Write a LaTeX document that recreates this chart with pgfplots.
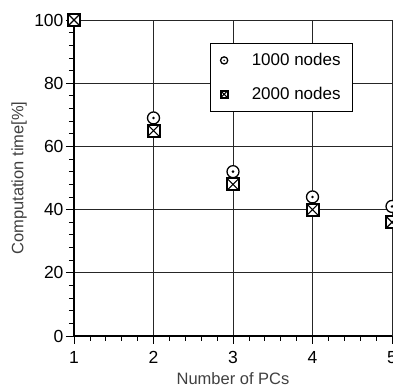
\documentclass[border=0pt]{standalone}
\usepackage{pgfplots}
\pgfplotsset{compat=1.18}
\usepackage{fontspec}
\setmainfont{Liberation Sans}
\pgfdeclareplotmark{odot}{%
  \pgfpathcircle{\pgfpointorigin}{\pgfplotmarksize}%
  \pgfusepathqfillstroke
  \begin{pgfscope}%
  \pgfsetfillcolor{black}%
  \pgfpathcircle{\pgfpointorigin}{0.24\pgfplotmarksize}%
  \pgfusepathqfill
  \end{pgfscope}%
}
\pgfdeclareplotmark{boxx}{%
  \pgfpathrectangle{\pgfpoint{-\pgfplotmarksize}{-\pgfplotmarksize}}{\pgfpoint{2\pgfplotmarksize}{2\pgfplotmarksize}}%
  \pgfusepathqfillstroke
  \begin{pgfscope}%
  \pgfsetlinewidth{1.1pt}%
  \pgfpathmoveto{\pgfpoint{-\pgfplotmarksize}{-\pgfplotmarksize}}%
  \pgfpathlineto{\pgfpoint{\pgfplotmarksize}{\pgfplotmarksize}}%
  \pgfpathmoveto{\pgfpoint{-\pgfplotmarksize}{\pgfplotmarksize}}%
  \pgfpathlineto{\pgfpoint{\pgfplotmarksize}{-\pgfplotmarksize}}%
  \pgfusepathqstroke
  \end{pgfscope}%
}
\begin{document}
\begin{tikzpicture}
\begin{axis}[
  scale only axis,
  width=318pt, height=316pt,
  xmin=1, xmax=5, ymin=0, ymax=100,
  axis x line*=bottom, axis y line*=left,
  axis line style={line width=1.6pt, -},
  xtick={1,2,3,4,5}, ytick={0,20,40,60,80,100},
  minor x tick num=4, minor y tick num=4,
  tick align=outside,
  major tick length=8pt, minor tick length=5pt,
  tick style={black, line width=0.8pt},
  grid=major,
  major grid style={black!85, line width=0.7pt},
  font=\fontsize{16.5}{19}\selectfont,
  tick label style={font=\fontsize{17.5}{20}\selectfont},
  /pgf/number format/assume math mode=true,
  xticklabel style={yshift=-4pt},
  yticklabel style={xshift=1pt},
  xlabel={Number of PCs},
  ylabel={Computation time[\%]},
  label style={text=black!75},
  xlabel style={yshift=-2pt},
  ylabel style={yshift=0.5pt},
  clip=false,
  legend style={at={(0.428,0.927)}, anchor=north west, draw=black, line width=0.9pt,
    font=\fontsize{17}{20}\selectfont, inner xsep=10pt, inner ysep=8pt,
    row sep=16pt, cells={anchor=west}},
  legend image code/.code={\draw[#1, mark size=3.6pt, line width=0.8pt] plot coordinates {(0.62cm,0cm)};},
]
\addplot[only marks, mark=odot, mark size=6pt, mark options={fill=white, draw=black, line width=1.3pt}]
  coordinates {(1,100) (2,69) (3,52) (4,44) (5,41)};
\addlegendentry{\hspace{22pt}1000 nodes}
\addplot[only marks, mark=boxx, mark size=6pt, mark options={fill=white, draw=black, line width=2pt}]
  coordinates {(1,100) (2,65) (3,48) (4,40) (5,36)};
\addlegendentry{\hspace{22pt}2000 nodes}
\coordinate (bl) at (rel axis cs:0,0);
\coordinate (tr) at (rel axis cs:1,1);
\end{axis}
\pgfresetboundingbox
\path ([shift={(-74pt,-51pt)}]bl) rectangle ([shift={(1pt,20pt)}]tr);
\end{tikzpicture}
\end{document}
